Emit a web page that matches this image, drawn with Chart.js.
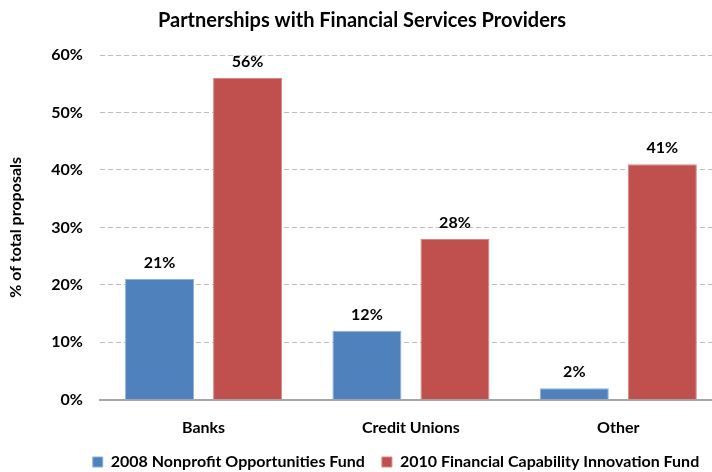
<!DOCTYPE html>
<html>
<head>
<meta charset="utf-8">
<script src="https://cdn.jsdelivr.net/npm/chart.js@4.4.1/dist/chart.umd.min.js"></script>
<style>
  html, body { margin: 0; padding: 0; background: #fff; overflow: hidden; }
  #wrap { width: 712px; height: 472px; overflow: hidden; }
  #box { width: 724px; height: 480px; }
</style>
</head>
<body>
<div id="wrap"><div id="box"><canvas id="myChart"></canvas></div></div>
<script>
const categories = ['Banks', 'Credit Unions', 'Other'];
const fund2008 = [21, 12, 2];
const fund2010 = [56, 28, 41];
const seriesNames = ['2008 Nonprofit Opportunities Fund', '2010 Financial Capability Innovation Fund'];
const yTicks = [0, 10, 20, 30, 40, 50, 60];

const FONT = 'Lato, "Open Sans", sans-serif';

// labels over each bar
const barLabels = {
  id: 'barLabels',
  afterDatasetsDraw(chart) {
    const ctx = chart.ctx;
    ctx.save();
    ctx.font = 'bold 16px ' + FONT;
    ctx.fillStyle = '#000';
    ctx.textAlign = 'center';
    ctx.textBaseline = 'bottom';
    chart.data.datasets.forEach((ds, i) => {
      chart.getDatasetMeta(i).data.forEach((bar, j) => {
        ctx.fillText(ds.data[j] + '%', bar.x, bar.y - 8);
      });
    });
    ctx.restore();
  }
};

// legend sits a bit right of the canvas centre, like the original
const legendShift = {
  id: 'legendShift',
  afterLayout(chart) {
    const lg = chart.legend;
    const dx = 34;
    lg.left += dx;
    lg.right += dx;
  }
};

const ctx = document.getElementById('myChart');

new Chart(ctx, {
  type: 'bar',
  data: {
    labels: categories,
    datasets: [{
      label: seriesNames[0],
      data: fund2008,
      backgroundColor: '#4F81BD',
      borderColor: '#8fb0d8',
      borderWidth: 1,
      categoryPercentage: 0.849,
      barPercentage: 0.784
    }, {
      label: seriesNames[1],
      data: fund2010,
      backgroundColor: '#C0504D',
      borderColor: '#d58886',
      borderWidth: 1,
      categoryPercentage: 0.849,
      barPercentage: 0.784
    }]
  },
  options: {
    responsive: true,
    maintainAspectRatio: false,
    animation: false,
    layout: { padding: { top: 6, right: 2, left: 2, bottom: 0 } },
    scales: {
      x: {
        grid: { display: false, tickLength: 18 },
        border: { color: '#a6a6a6', width: 2 },
        ticks: { color: '#000', font: { family: FONT, size: 16, weight: 'bold' }, padding: 0 }
      },
      y: {
        min: 0,
        max: 60,
        afterBuildTicks: (axis) => { axis.ticks = yTicks.map(v => ({ value: v })); },
        grid: {
          color: (c) => c.tick && c.tick.value === 0 ? 'rgba(0,0,0,0)' : '#bcbcbc',
          drawTicks: false
        },
        border: { display: false, dash: [5, 3] },
        ticks: {
          color: '#000',
          padding: 17,
          font: { family: FONT, size: 16, weight: 'bold' },
          callback: (v) => v + '%'
        },
        title: {
          display: true,
          text: '% of total proposals',
          color: '#000',
          font: { family: FONT, size: 16, weight: 'bold' },
          padding: { top: 4, bottom: 9 }
        }
      }
    },
    plugins: {
      title: {
        display: true,
        text: 'Partnerships with Financial Services Providers',
        color: '#000',
        font: { family: FONT, size: 20, weight: 'bold' },
        padding: { top: 3, bottom: 22 }
      },
      legend: {
        position: 'bottom',
        labels: {
          color: '#000',
          font: { family: FONT, size: 16, weight: 'bold' },
          boxWidth: 10,
          boxHeight: 10,
          padding: 17
        }
      },
      tooltip: { enabled: false }
    }
  },
  plugins: [barLabels, legendShift]
});
</script>
</body>
</html>
